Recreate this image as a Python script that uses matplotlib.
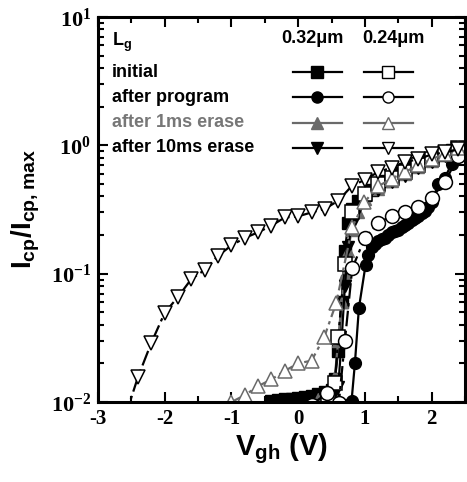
import matplotlib
matplotlib.use("Agg")
import matplotlib.pyplot as plt
from matplotlib.ticker import MultipleLocator, LogLocator, NullFormatter

plt.rcParams["mathtext.fontset"] = "custom"
plt.rcParams["mathtext.rm"] = "Liberation Serif"
plt.rcParams["mathtext.bf"] = "Liberation Serif:bold"

# 0.32um devices (filled markers)
v_init_032 = [-0.4, -0.3, -0.2, -0.1, 0.0, 0.1, 0.2, 0.3, 0.4, 0.5, 0.55, 0.6, 0.65, 0.7, 0.75, 0.8,
              0.9, 1.0, 1.1, 1.2, 1.3, 1.4, 1.5, 1.6, 1.7, 1.8, 1.9, 2.0, 2.1, 2.2, 2.3, 2.4]
y_init_032 = [0.0102, 0.0104, 0.0105, 0.0106, 0.0108, 0.011, 0.0112, 0.0115, 0.012, 0.0125, 0.015,
              0.025, 0.06, 0.15, 0.25, 0.32, 0.37, 0.41, 0.45, 0.49, 0.53, 0.57, 0.61, 0.65, 0.69,
              0.73, 0.77, 0.8, 0.84, 0.88, 0.92, 0.96]
v_prog_032 = [0.7, 0.8, 0.85, 0.91, 1.01, 1.05, 1.1, 1.15, 1.2, 1.25, 1.3, 1.35, 1.4, 1.45, 1.5, 1.55,
              1.6, 1.65, 1.7, 1.75, 1.8, 1.85, 1.9, 1.95, 2.0, 2.1, 2.2, 2.3, 2.4]
y_prog_032 = [0.0095, 0.0102, 0.02, 0.054, 0.117, 0.14, 0.16, 0.17, 0.18, 0.185, 0.19, 0.2, 0.21,
              0.215, 0.22, 0.23, 0.24, 0.25, 0.26, 0.27, 0.28, 0.295, 0.31, 0.33, 0.36, 0.5, 0.56,
              0.72, 0.9]
v_e1_032 = [0.3, 0.4, 0.5, 0.55, 0.6, 0.65, 0.7, 0.75, 0.8, 0.9, 1.0, 1.2, 1.4, 1.6, 1.8, 2.0, 2.2, 2.4]
y_e1_032 = [0.0105, 0.011, 0.012, 0.016, 0.03, 0.06, 0.1, 0.15, 0.22, 0.3, 0.38, 0.46, 0.53, 0.6,
            0.68, 0.76, 0.85, 0.95]
v_e10_032 = [0.4, 0.5, 0.6, 0.65, 0.7, 0.75, 0.8, 0.9, 1.0, 1.2, 1.4, 1.6, 1.8, 2.0, 2.2, 2.4]
y_e10_032 = [0.0105, 0.011, 0.013, 0.03, 0.08, 0.16, 0.24, 0.32, 0.38, 0.45, 0.52, 0.58, 0.66, 0.74,
             0.82, 0.92]

# 0.24um devices (open markers)
v_init_024 = [0.45, 0.55, 0.6, 0.7, 0.8, 1.0, 1.2, 1.4, 1.6, 1.8, 2.0, 2.2, 2.4]
y_init_024 = [0.0105, 0.014, 0.032, 0.12, 0.30, 0.42, 0.5, 0.56, 0.62, 0.7, 0.78, 0.86, 0.95]
v_prog_024 = [0.2, 0.43, 0.61, 0.7, 0.81, 1.0, 1.2, 1.4, 1.6, 1.8, 2.0, 2.2, 2.4]
y_prog_024 = [0.0095, 0.0117, 0.0099, 0.03, 0.11, 0.19, 0.25, 0.28, 0.305, 0.33, 0.39, 0.52, 0.82]
v_e1_024 = [-1.0, -0.8, -0.6, -0.4, -0.2, 0.0, 0.2, 0.39, 0.57, 0.81, 0.99, 1.2, 1.4, 1.6, 1.8,
            2.0, 2.2, 2.4]
y_e1_024 = [0.0100, 0.0113, 0.0133, 0.015, 0.0175, 0.020, 0.021, 0.032, 0.059, 0.23, 0.36, 0.48,
            0.55, 0.62, 0.7, 0.78, 0.86, 0.95]
v_e10_024 = [-2.6, -2.4, -2.2, -2.0, -1.8, -1.6, -1.4, -1.2, -1.0, -0.8, -0.6, -0.4, -0.2, 0.0, 0.2,
             0.4, 0.6, 0.8, 1.0, 1.2, 1.4, 1.6, 1.8, 2.0, 2.2, 2.4]
y_e10_024 = [0.0075, 0.0157, 0.029, 0.0496, 0.066, 0.091, 0.107, 0.138, 0.166, 0.19, 0.21, 0.237,
             0.274, 0.28, 0.30, 0.32, 0.37, 0.48, 0.54, 0.62, 0.67, 0.74, 0.78, 0.85, 0.88, 0.93]

labels = ["initial", "after program", "after 1ms erase", "after 10ms erase"]
gray = "#6a6a6a"
colors = ["black", "black", gray, "black"]
markers = ["s", "o", "^", "v"]

fig = plt.figure(figsize=(4.67, 4.82), dpi=100)
ax = fig.add_axes([98 / 467, 80 / 482, 367 / 467, 385 / 482])

dash = (0, (7, 2, 1.5, 2))
series_032 = [(v_init_032, y_init_032), (v_prog_032, y_prog_032), (v_e1_032, y_e1_032), (v_e10_032, y_e10_032)]
series_024 = [(v_init_024, y_init_024), (v_prog_024, y_prog_024), (v_e1_024, y_e1_024), (v_e10_024, y_e10_024)]
for (v, y), c, m in zip(series_032, colors, markers):
    ax.plot(v, y, color=c, lw=1.6, marker=m, ms=8.5, mfc=c, mec=c, mew=1)
for (v, y), c, m in zip(series_024, colors, markers):
    ax.plot(v, y, color=c, lw=1.6, ls=dash, marker=m, ms=10, mfc="white", mec=c, mew=1.1)

ax.set_xlim(-3, 2.5)
ax.set_yscale("log")
ax.set_ylim(0.01, 10)

ax.xaxis.set_major_locator(MultipleLocator(1))
ax.xaxis.set_minor_locator(MultipleLocator(0.5))
ax.yaxis.set_major_locator(LogLocator(base=10, numticks=10))
ax.yaxis.set_minor_locator(LogLocator(base=10, subs=range(2, 10), numticks=10))
ax.yaxis.set_minor_formatter(NullFormatter())
ax.set_xticks([-3, -2, -1, 0, 1, 2])
ax.set_xticklabels(["-3", "-2", "-1", "0", "1", "2"], fontfamily="Liberation Serif",
                   fontweight="bold", fontsize=15)
ax.set_yticks([0.01, 0.1, 1, 10])
ax.set_yticklabels([r"$\mathbf{10^{-2}}$", r"$\mathbf{10^{-1}}$", r"$\mathbf{10^{0}}$", r"$\mathbf{10^{1}}$"],
                   fontsize=16)
ax.tick_params(which="both", direction="in", top=True, right=True, width=1.5)
ax.tick_params(which="major", length=7, pad=5)
ax.tick_params(which="minor", length=4)
for s in ax.spines.values():
    s.set_linewidth(2.2)

ax.set_xlabel(r"V$_{\mathregular{gh}}$ (V)", fontfamily="Liberation Sans", fontweight="bold",
              fontsize=21, labelpad=2)
ax.set_ylabel(r"I$_{\mathregular{cp}}$/I$_{\mathregular{cp,max}}$", fontfamily="Liberation Sans",
              fontweight="bold", fontsize=20, labelpad=6)

# legend drawn by hand, like the original figure
tf = ax.transAxes
txt = dict(transform=tf, fontfamily="Liberation Sans", fontweight="bold", fontsize=13, va="center")
ax.text(0.038, 0.935, r"L$_{\mathregular{g}}$", ha="left", **txt)
ax.text(0.583, 0.943, "0.32\u03bcm", ha="center", **txt)
ax.text(0.804, 0.943, "0.24\u03bcm", ha="center", **txt)
rows = [0.857, 0.792, 0.725, 0.660]
for lab, c, m, yy in zip(labels, colors, markers, rows):
    ax.text(0.038, yy, lab, ha="left", color=("#777777" if c == gray else "black"), **txt)
    ax.plot([0.531, 0.665], [yy, yy], transform=tf, color=c, lw=1.6)
    ax.plot([0.597], [yy], transform=tf, color=c, marker=m, ms=8, mfc=c, mec=c, ls="none")
    ax.plot([0.724, 0.858], [yy, yy], transform=tf, color=c, lw=1.6)
    ax.plot([0.790], [yy], transform=tf, color=c, marker=m, ms=8, mfc="white", mec=c, ls="none")

fig.savefig("out.png", dpi=100)
